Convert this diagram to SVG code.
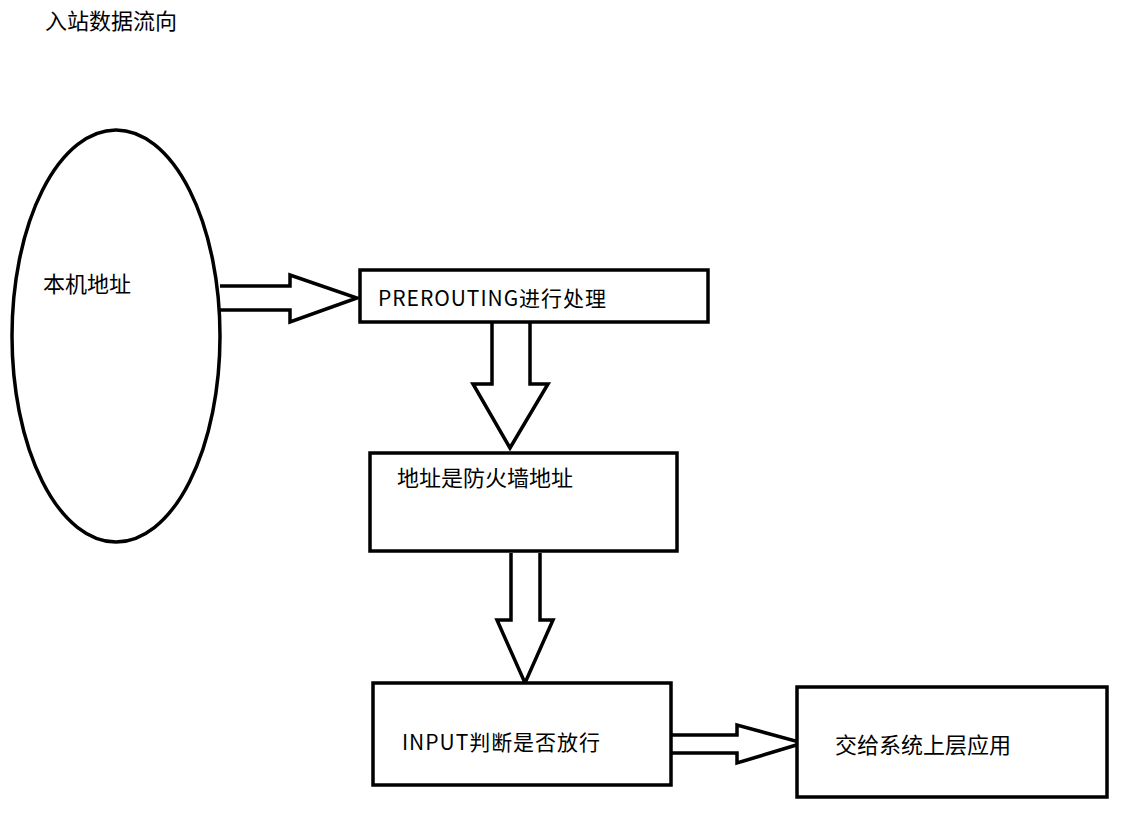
<svg xmlns="http://www.w3.org/2000/svg" width="1138" height="825" viewBox="0 0 1138 825">
<style>
.s{fill:#fff;stroke:#000;stroke-width:3.5}
.a{fill:#fff;stroke:#000;stroke-width:3.5;stroke-linejoin:miter}
text{font-family:"Noto Sans CJK SC","Noto Sans",sans-serif;font-size:21px;fill:#000;dominant-baseline:central}
</style>
<rect width="1138" height="825" fill="#fff"/>
<text x="45" y="19" style="font-size:22px">入站数据流向</text>
<g id="connectors">
<path class="a" d="M220 286 H290 V275 L357 298 L290 322 V310 H220"/>
<path class="a" d="M492 323 V384 H473 L510 448 L548 384 H530 V323"/>
<path class="a" d="M511 553 V620 H497 L525 683 L553 620 H540 V553"/>
<path class="a" d="M671 735 H737 V725 L803 743 L737 763 V753 H671"/>
</g>
<g id="local"><ellipse class="s" cx="116" cy="336" rx="104" ry="206"/><text x="43" y="282" style="font-size:22px">本机地址</text></g>
<g id="prerouting"><rect class="s" x="360" y="270" width="348" height="52"/><text x="378" y="297" textLength="228">PREROUTING进行处理</text></g>
<g id="fwaddr"><rect class="s" x="370" y="453" width="307" height="98"/><text x="397" y="476" style="font-size:22px">地址是防火墙地址</text></g>
<g id="input"><rect class="s" x="373" y="683" width="298" height="102"/><text x="402" y="741" textLength="198">INPUT判断是否放行</text></g>
<g id="app"><rect class="s" x="797" y="687" width="310" height="110"/><text x="835" y="743" style="font-size:22px">交给系统上层应用</text></g>
</svg>
